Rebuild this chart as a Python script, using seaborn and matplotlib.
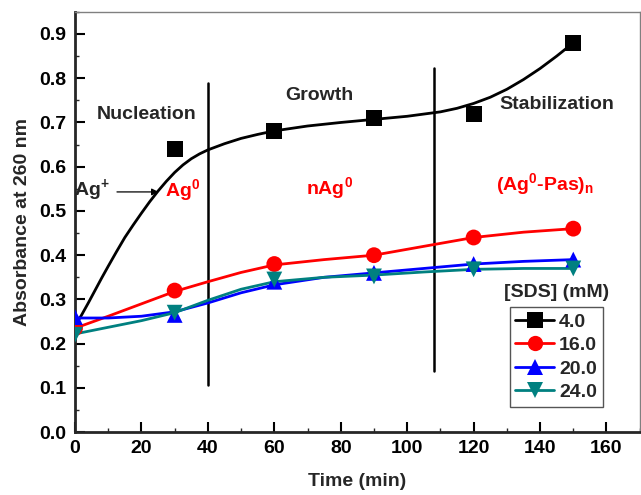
import numpy as np
import pandas as pd
import matplotlib
matplotlib.use("Agg")
import matplotlib.pyplot as plt
import seaborn as sns
from matplotlib.lines import Line2D
from matplotlib.ticker import MultipleLocator

# ---- data ----
series_names = ["4.0", "16.0", "20.0", "24.0"]
time_4 = [30, 60, 90, 120, 150]
abs_4 = [0.64, 0.68, 0.71, 0.72, 0.88]
time_pts = [0, 30, 60, 90, 120, 150]
abs_16 = [0.235, 0.32, 0.38, 0.40, 0.44, 0.46]
abs_20 = [0.26, 0.265, 0.34, 0.36, 0.38, 0.39]
abs_24 = [0.22, 0.27, 0.345, 0.352, 0.368, 0.37]

# fitted curves as drawn in the figure
fit4_t = [0, 2, 4, 6, 8, 10, 12.5, 15, 17.5, 20, 22.5, 25, 27.5, 30, 32.5, 35, 37.5, 40, 45, 50, 55, 60,
          70, 80, 90, 100, 110, 115, 120, 125, 130, 135, 140, 145, 150]
fit4_y = [0.24, 0.265, 0.292, 0.32, 0.348, 0.375, 0.408, 0.44, 0.468, 0.495, 0.521, 0.545, 0.567, 0.587,
          0.604, 0.618, 0.629, 0.638, 0.652, 0.664, 0.673, 0.681, 0.692, 0.70, 0.707, 0.714, 0.724,
          0.732, 0.743, 0.757, 0.775, 0.797, 0.822, 0.85, 0.88]
fit16_t = [0, 10, 20, 30, 40, 50, 60, 75, 90, 105, 120, 135, 150]
fit16_y = [0.235, 0.262, 0.29, 0.318, 0.34, 0.361, 0.378, 0.39, 0.40, 0.42, 0.44, 0.452, 0.46]
fit20_t = [0, 10, 20, 30, 40, 50, 60, 75, 90, 105, 120, 135, 150]
fit20_y = [0.258, 0.258, 0.262, 0.272, 0.292, 0.315, 0.333, 0.35, 0.36, 0.37, 0.38, 0.386, 0.39]
fit24_t = [0, 10, 20, 30, 40, 50, 60, 75, 90, 105, 120, 135, 150]
fit24_y = [0.222, 0.237, 0.252, 0.27, 0.298, 0.323, 0.34, 0.35, 0.355, 0.362, 0.368, 0.37, 0.37]

colors = ["#000000", "#FF0000", "#0000FF", "#008080"]
markers = ["s", "o", "^", "v"]

# ---- style ----
sns.set_style("ticks")
plt.rcParams["font.family"] = ["Liberation Sans", "DejaVu Sans"]
plt.rcParams["font.weight"] = "bold"
plt.rcParams["mathtext.fontset"] = "custom"
plt.rcParams["mathtext.rm"] = "Liberation Sans:bold"
plt.rcParams["mathtext.it"] = "Liberation Sans:bold"
plt.rcParams["mathtext.bf"] = "Liberation Sans:bold"

fig = plt.figure(figsize=(6.41, 4.95), dpi=100)
ax = fig.add_axes([0.117, 0.127, 0.881, 0.849])

pts_t = [time_4, time_pts, time_pts, time_pts]
pts_y = [abs_4, abs_16, abs_20, abs_24]
fits = [(fit4_t, fit4_y), (fit16_t, fit16_y), (fit20_t, fit20_y), (fit24_t, fit24_y)]

for (ft, fy), c in zip(fits, colors):
    sns.lineplot(x=ft, y=fy, color=c, lw=2, ax=ax, sort=False, zorder=3)
for t, y, c, m in zip(pts_t, pts_y, colors, markers):
    d = pd.DataFrame({"t": t, "A": y})
    sns.scatterplot(data=d, x="t", y="A", color=c, marker=m, s=130, edgecolor="none",
                    linewidth=0, ax=ax, zorder=4)

# phase boundaries
ax.plot([40, 40], [0.106, 0.79], color="black", lw=1.8, zorder=2)
ax.plot([108, 108], [0.138, 0.823], color="black", lw=1.8, zorder=2)

# annotations
fs = 14
ax.text(21.6, 0.717, "Nucleation", ha="center", va="center", fontsize=fs, fontweight="bold")
ax.text(73.5, 0.762, "Growth", ha="center", va="center", fontsize=fs, fontweight="bold")
ax.text(145, 0.74, "Stabilization", ha="center", va="center", fontsize=fs, fontweight="bold")
ax.text(-0.3, 0.547, r"Ag$^{+}$", ha="left", va="center", fontsize=fs, fontweight="bold")
ax.annotate("", xy=(26, 0.543), xytext=(11.8, 0.543),
            arrowprops=dict(arrowstyle="-|>", color="black", lw=0.9, mutation_scale=10))
ax.text(32.5, 0.547, r"Ag$^{0}$", ha="center", va="center", fontsize=fs, fontweight="bold", color="#FF0000")
ax.text(76.5, 0.552, r"nAg$^{0}$", ha="center", va="center", fontsize=fs, fontweight="bold", color="#FF0000")
ax.text(141.5, 0.56, r"(Ag$^{0}$-Pas)$_{n}$", ha="center", va="center", fontsize=fs, fontweight="bold",
        color="#FF0000")

# axes
ax.set_xlim(0, 170)
ax.set_ylim(0, 0.95)
ax.xaxis.set_major_locator(MultipleLocator(20))
ax.xaxis.set_minor_locator(MultipleLocator(10))
ax.yaxis.set_minor_locator(MultipleLocator(0.05))
ax.set_yticks(np.arange(0, 0.91, 0.1))
ax.set_yticklabels([f"{v:.1f}" for v in np.arange(0, 0.91, 0.1)])
ax.tick_params(which="major", direction="in", length=7, width=1.5, labelsize=14, colors="black", pad=6)
ax.tick_params(which="minor", direction="in", length=3, width=1.0)
for lab in ax.get_xticklabels() + ax.get_yticklabels():
    lab.set_fontweight("bold")
ax.spines["left"].set_linewidth(2)
ax.spines["bottom"].set_linewidth(2)
for s in ["top", "right"]:
    ax.spines[s].set_visible(True)
    ax.spines[s].set_color("#808080")
    ax.spines[s].set_linewidth(1.0)
ax.set_xlabel("Time (min)", fontsize=14, fontweight="bold", labelpad=11)
ax.set_ylabel("Absorbance at 260 nm", fontsize=14, fontweight="bold", labelpad=6)

handles = [Line2D([0], [0], color=c, marker=m, lw=2, markersize=11, markeredgewidth=0)
           for c, m in zip(colors, markers)]
leg = ax.legend(handles, series_names, loc="lower right", bbox_to_anchor=(0.935, 0.06),
                frameon=True, fancybox=False, framealpha=1, edgecolor="#555555",
                prop={"weight": "bold", "size": 14}, handlelength=2.0, handletextpad=0.25,
                labelspacing=0.3, borderpad=0.3, borderaxespad=0)
leg.get_frame().set_linewidth(1.0)
ax.text(145, 0.315, "[SDS] (mM)", ha="center", va="center", fontsize=14, fontweight="bold")

fig.savefig("out.png", dpi=100)
